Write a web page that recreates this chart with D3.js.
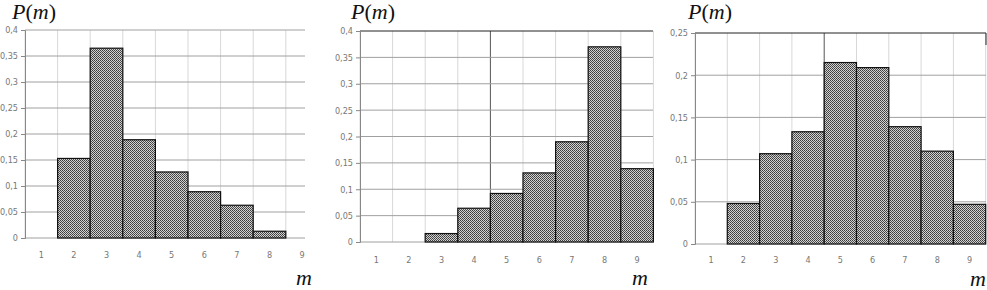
<!DOCTYPE html>
<html>
<head>
<meta charset="utf-8">
<script src="https://cdn.jsdelivr.net/npm/d3@7"></script>
<style>
  html, body { margin: 0; padding: 0; background: #fff; overflow: hidden; }
  svg { display: block; }
  .tick text { font-family: "DejaVu Sans Condensed", "DejaVu Sans", sans-serif; font-size: 9px; fill: #777; }
</style>
</head>
<body>
<svg width="987" height="290"></svg>
<script>
// categories on the x axis
const categories = [1, 2, 3, 4, 5, 6, 7, 8, 9];
// probabilities P(m) for each panel (null = no bar)
const probsA = [null, 0.153, 0.365, 0.189, 0.127, 0.089, 0.063, 0.013, null];
const probsB = [0, 0, 0.016, 0.064, 0.092, 0.131, 0.190, 0.370, 0.139];
const probsC = [0, 0.048, 0.107, 0.133, 0.215, 0.209, 0.139, 0.110, 0.047];
// y tick values
const yTicksA = [0, 0.05, 0.1, 0.15, 0.2, 0.25, 0.3, 0.35, 0.4];
const yTicksB = [0, 0.05, 0.1, 0.15, 0.2, 0.25, 0.3, 0.35, 0.4];
const yTicksC = [0, 0.05, 0.1, 0.15, 0.2, 0.25];

const serif = "Liberation Serif, DejaVu Serif, serif";
const svg = d3.select("svg");

// dotted fill like the printed hatch
const defs = svg.append("defs");
const pat = defs.append("pattern")
  .attr("id", "dots")
  .attr("width", 2).attr("height", 2)
  .attr("patternUnits", "userSpaceOnUse");
pat.append("rect").attr("width", 2).attr("height", 2).attr("fill", "#d2d2d2");
pat.append("rect").attr("width", 1).attr("height", 1).attr("fill", "#3c3c3c");
pat.append("rect").attr("x", 1).attr("y", 1).attr("width", 1).attr("height", 1).attr("fill", "#505050");

const fmt = v => v === 0 ? "0" : String(+v.toFixed(2)).replace(".", ",");

function drawPanel(cfg) {
  const { values, ticks, yMax, left, top, bottom, bandW, right, dark } = cfg;
  const g = svg.append("g");
  const x = d3.scaleBand()
    .domain(categories)
    .range([left, left + bandW * categories.length])
    .padding(0);
  const y = d3.scaleLinear().domain([0, yMax]).range([bottom, top]);

  // vertical grid at band edges
  const edges = categories.map(c => x(c)).concat([x(9) + bandW]).filter(v => v <= right + 0.5);
  g.selectAll(".vgrid").data(edges).enter().append("line")
    .attr("x1", d => d).attr("x2", d => d)
    .attr("y1", top).attr("y2", bottom)
    .attr("stroke", (d, i) => (dark && i === 4) ? "#555" : "#d8d8d8")
    .attr("stroke-width", 1);

  // horizontal grid
  g.selectAll(".hgrid").data(ticks).enter().append("line")
    .attr("x1", left).attr("x2", right)
    .attr("y1", d => y(d)).attr("y2", d => y(d))
    .attr("stroke", d => (dark && d === yMax) ? "#222" : "#a0a0a0")
    .attr("stroke-width", 1);

  if (cfg.rightEdge) {
    g.append("line").attr("x1", right).attr("x2", right)
      .attr("y1", top).attr("y2", top + 12).attr("stroke", "#222");
  }

  // y axis
  const yAxis = d3.axisLeft(y).tickValues(ticks).tickFormat(fmt).tickSize(4).tickPadding(3);
  const ag = g.append("g").attr("transform", `translate(${left},0)`).call(yAxis);
  ag.select(".domain").attr("stroke", "#888");
  ag.selectAll(".tick line").attr("stroke", "#888");

  // bars
  const data = categories.map((c, i) => ({ m: c, p: values[i] })).filter(d => d.p !== null);
  g.selectAll(".bar").data(data).enter().append("rect")
    .attr("x", d => x(d.m))
    .attr("width", x.bandwidth())
    .attr("y", d => y(d.p))
    .attr("height", d => y(0) - y(d.p))
    .attr("fill", "url(#dots)")
    .attr("stroke", "#111")
    .attr("stroke-width", 1.2);

  // x labels
  const xAxis = d3.axisBottom(x).tickSize(0).tickPadding(cfg.xPad);
  const xg = g.append("g").attr("transform", `translate(0,${bottom})`).call(xAxis);
  xg.select(".domain").remove();

  // titles
  const t = g.append("text").style("font-family", serif).attr("font-size", 22)
    .attr("fill", "#111").attr("x", cfg.titleX).attr("y", 19);
  t.append("tspan").attr("font-style", "italic").text("P");
  t.append("tspan").text("(");
  t.append("tspan").attr("font-style", "italic").text("m");
  t.append("tspan").text(")");
  g.append("text").style("font-family", serif).attr("font-size", 22).attr("fill", "#111")
    .attr("font-style", "italic")
    .attr("x", cfg.mX).attr("y", cfg.mY).text("m");
}

drawPanel({ values: probsA, ticks: yTicksA, yMax: 0.4, left: 25, top: 30, bottom: 238,
  bandW: 32.6, right: 305, dark: false, xPad: 14, titleX: 12, mX: 296, mY: 285 });
drawPanel({ values: probsB, ticks: yTicksB, yMax: 0.4, left: 360, top: 31, bottom: 242,
  bandW: 32.6, right: 653, dark: true, xPad: 15, titleX: 351, mX: 632, mY: 285 });
drawPanel({ values: probsC, ticks: yTicksC, yMax: 0.25, left: 695, top: 33, bottom: 244,
  bandW: 32.3, right: 986, dark: true, rightEdge: true, xPad: 13, titleX: 688, mX: 970, mY: 286 });
</script>
</body>
</html>
